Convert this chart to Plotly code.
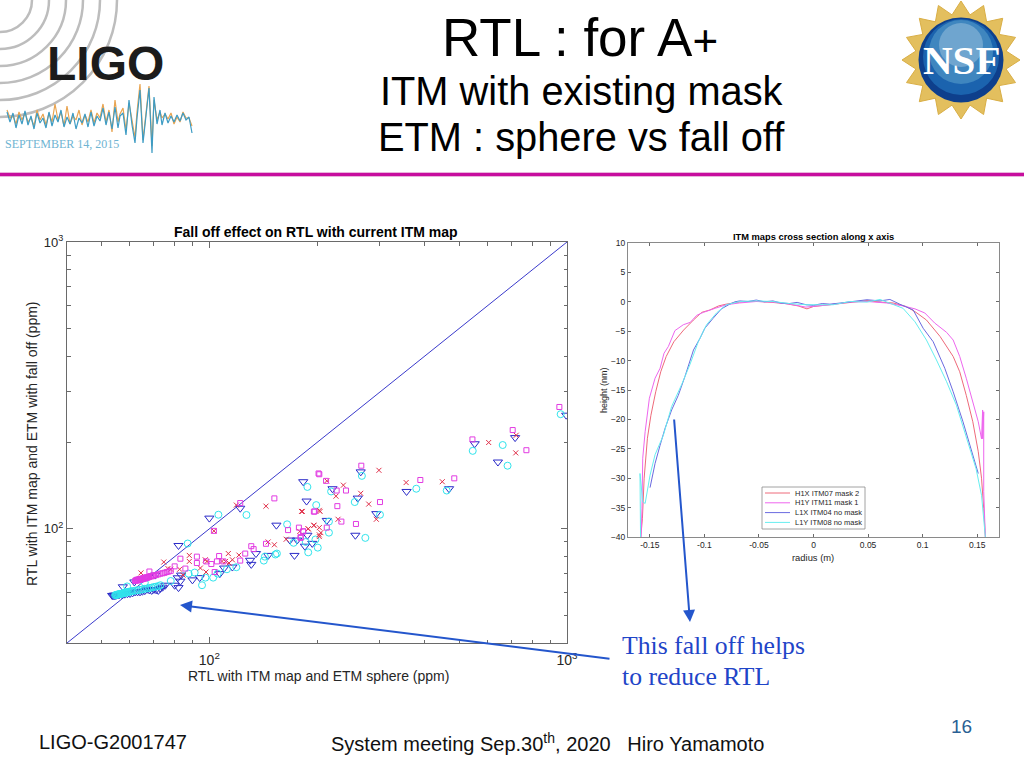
import math
import plotly.graph_objects as go

# ---------- left panel: RTL (ppm) ----------
tri_x = [53.5,53.8,54,54.3,54.5,54.8,55,55.5,56,57,58,59,60,61,62,63,64,65,66,67,68,69,70,71,72,73,74,
         57.3,61.7,70.6,75.3,80,82,81.6,83,83.4,89.7,94,107,110,116,130,131,135,146,173,168,176,185,188,194,154,187,183,122,100,82,
         995,716,641,552,468,356,293,260,265,221,256,213]
tri_y = [58.6,58.5,58.7,58.6,58.7,58.6,58.8,58.8,59,59,59.2,59.4,59.5,59.8,60.3,60.3,60.3,60.6,60.9,61.6,61.2,61,61.5,61.3,61,62,62.6,
         62.8,65.3,69,63.6,63.6,62.4,67.5,65.7,69,66.4,67.6,69.8,73,73.6,77.7,75.2,82,80.8,80.8,91.4,91.4,87,95,89,103,125,146,118,109,87.5,
         249,208,171,198,138,135,113,128,158,138,95,107]
cir_x = [54.5,54.8,55,55.3,55.5,55.8,56,56.3,56.5,56.8,57,57.3,57.5,57.8,58,58.3,58.5,58.8,59,59.5,60,60.5,61,62,63,64,65,66,67,68,69,70,71,72,73,
         58.9,66,78,87.5,91,95.4,97.5,102.5,105.5,112,119,142,143,153,154.5,165,172,186,189,198,201,199,188,127,106,87,
         960,661,682,545,461,379,300,255,267,219,216,216,273]
cir_y = [58.7,58.8,58.9,59,59,59.1,59.2,59.3,59.3,59.4,59.5,59.6,59.6,59.7,59.8,59.9,60,60.1,60.1,60.3,60.4,60.5,60.7,60.9,61.1,61.3,61.5,61.8,62,62.2,62.4,62.7,62.9,63.1,63.6,
         63,64.9,65.8,69.8,70.4,63.6,67.6,67.6,69.8,72.3,73.5,77.5,80,81.4,82,103.7,89.4,90,82.8,91.8,86,121,140,111.8,112,88.9,
         251,196,166,187,136,138,112,124,153,135,106,97,93]
crs_x = [64.4,74.6,76.6,78,82.6,84.4,87.9,87.9,94.4,97.9,97.4,98.5,108.5,111,113,116,113.5,121,103,119,144,152,146,164,179,181,189,196,203,203,
         721,719,604,448,355,298,265,279,293,237,226,213,204,182,229,205,196,203,189,203]
crs_y = [70.2,76.6,72.7,72.3,72.3,69,80.8,77,73,70.7,78,77,77,77,82,78,76,81,98.4,121,120,88,90,92,97.9,115,100,102.7,95.3,116,
         212,184,200,146,145,160,133,122,108,142,130,147,115,115,108,97,103,101,100,94]
sqr_x = [62,62.3,62.5,62.8,63,63.3,63.5,63.8,64,64.3,64.5,64.8,65,65.3,65.5,65.8,66,66.3,66.5,66.8,67,67.5,68,68.5,69,69.5,70,71,72,73,74,75,76,77,78,
         68,80,83,85.7,92.3,92.3,98,101.3,105,106.5,103.5,109.5,122,126,131,133,144,166,178,180,183,180,196,202,152,122,103,
         952,705,770,544,484,389,300,266,203,212,227,241,228,197,234,257,213,183]
sqr_y = [65.8,66.2,66,66.5,66.1,66.6,66.3,66.8,66.4,66.9,66.6,67,66.8,67.3,67,67.5,67.1,67.6,67.3,67.8,67.5,67.8,68,68.4,68.3,68.7,68.7,69,69.4,69.8,70,70.3,70.7,71,71.4,
         71,74,78.7,72.7,80,76,77,75.4,77,80.4,70.7,77,77.5,82,87,85,88.7,99,101,93.6,98,93,114.8,156,127.7,123,98.4,
         266,221,188,205,150,148,124,166,155,147,136,136,120,115,106,104,101,98]
unity = [40, 1000]
log_ticks = [100, 1000]
log_labels = ["10<sup>2</sup>", "10<sup>3</sup>"]
log_minor = [40,50,60,70,80,90,200,300,400,500,600,700,800,900]

# ---------- right panel: cross sections ----------
h1x_r = [-.1583,-.1568,-.1552,-.1522,-.149,-.1446,-.14,-.135,-.128,-.119,-.11,-.1025,-.095,-.087,-.08,-.068,-.06,-.05,-.038,-.026,-.014,-.006,0,.018,.0335,.049,.061,.073,.085,.094,.1035,.116,.128,.134,.14,.146,.151,.154,.156,.1575]
h1x_h = [-40,-36.9,-30,-23.2,-19.3,-15.3,-11.9,-9.3,-6.8,-4.8,-3.1,-1.8,-1.4,-.7,-.4,-.05,.05,.05,-.1,-.3,-.7,-1.2,-.8,-.4,-.05,.2,-.05,-.2,-.8,-1.8,-3.1,-5.9,-9.3,-11.9,-15.9,-20.4,-25.5,-30,-35.2,-40]
h1y_r = [-.158,-.1572,-.1565,-.1543,-.1504,-.1452,-.1406,-.137,-.133,-.127,-.1193,-.113,-.107,-.101,-.09,-.08,-.068,-.0525,-.037,-.022,-.007,0,.015,.0335,.049,.067,.082,.093,.102,.111,.122,.128,.134,.14,.146,.151,.154,.155,.155,.156,.156,.1575]
h1y_h = [-40,-35.2,-26.6,-22.1,-16.4,-13,-11.3,-8.75,-7.6,-4.9,-3.9,-3.5,-2.3,-1.8,-1.1,-.5,-.2,.05,-.05,-.4,-.9,-.8,-.5,-.05,.05,-.2,-.7,-1.2,-1.9,-3.6,-5.2,-6.5,-9.3,-13,-17,-20.4,-23.3,-18.4,-23.3,-18.7,-32.3,-40]
l1x_r = [-.1498,-.1452,-.1406,-.136,-.13,-.1239,-.1178,-.11,-.104,-.0996,-.092,-.0844,-.0768,-.072,-.0676,-.06,-.0524,-.045,-.0372,-.03,-.022,-.015,-.0068,0,.008,.015,.025,.0335,.042,.049,.061,.07,.079,.0914,.1005,.1097,.1203,.128,.137,.146,.151]
l1x_h = [-31.6,-27.5,-24.4,-21.5,-18.4,-15.9,-12.7,-8.2,-6.2,-4.5,-2.8,-1.2,-.4,0,.15,.05,.3,.0,.15,-.2,-.3,-.1,-.5,-.6,-.3,-.4,-.2,-.05,.1,.35,.15,.4,-.4,-1.4,-4.5,-6.8,-11.3,-15.3,-20.4,-26.1,-29.2]
l1y_r = [-.1585,-.159,-.1565,-.1543,-.1498,-.1452,-.1376,-.13,-.1209,-.1133,-.1056,-.098,-.0889,-.08,-.0676,-.0524,-.0372,-.022,-.0068,0,.018,.0335,.049,.061,.073,.082,.093,.1035,.1127,.122,.131,.14,.149,.154,.1575]
l1y_h = [-40,-29.2,-34,-34.3,-29.5,-26,-22.7,-17.8,-14.1,-10.7,-6.8,-3.9,-1.9,-.5,.05,.15,.05,-.3,-.5,-.5,-.5,.05,-.05,.4,-.5,-1.1,-3.4,-6.5,-9.9,-13.6,-17.6,-23.2,-28.4,-32.9,-40]
legend_labels = ["H1X ITM07 mask 2", "H1Y ITM11 mask 1", "L1X ITM04 no mask", "L1Y ITM08 no mask"]
h_ticks = [-.15,-.1,-.05,0,.05,.1,.15]
h_labels = ["-0.15","-0.1","-0.05","0","0.05","0.1","0.15"]

# ---------- logo wave ----------
wave_x = [7,10,13,16,19,22,25,28,31,34,37,40,43,46,49,52,55,58,61,64,67,70,73,76,79,82,85,88,91,94,97,100,103,106,109,112,115,118,120,123,126,129,132,135,137,140,143,146,149,152,154,157,160,162,165,168,171,174,177,180,183,186,189,192]
wave_b = [112,122,113,128,115,124,111,125,116,129,113,123,118,128,112,126,115,122,110,127,117,124,113,129,118,123,114,127,112,126,116,121,108,125,112,129,107,128,116,113,135,100,125,143,118,90,143,118,88,153,97,124,110,125,113,123,116,122,115,121,113,120,117,133]
wave_o = [110,118,116,124,112,120,113,122,118,126,110,120,114,125,113,122,104,120,112,126,106,124,116,120,110,125,115,122,110,123,113,118,104,122,110,132,100,122,114,108,130,103,120,138,112,84,140,110,86,146,100,120,112,118,114,119,113,124,117,122,112,118,118,126]

W, H = 1024, 768
def X(p): return p / W
def Y(p): return 1 - p / H

fig = go.Figure()
SLIDE = dict(xaxis="x3", yaxis="y3", hoverinfo="skip", showlegend=False)
LEFT = dict(xaxis="x", yaxis="y", showlegend=False)
RIGHT = dict(xaxis="x2", yaxis="y2", showlegend=False)

fig.add_trace(go.Scatter(x=wave_x, y=wave_o, mode="lines", line=dict(color="#E9A552", width=1.2), **SLIDE))
fig.add_trace(go.Scatter(x=wave_x, y=wave_b, mode="lines", line=dict(color="#3E9CC4", width=1.2), **SLIDE))

fig.add_trace(go.Scatter(x=unity, y=unity, mode="lines", line=dict(color="#3A3ACC", width=1), **LEFT))
fig.add_trace(go.Scatter(x=tri_x, y=tri_y, mode="markers", marker=dict(symbol="triangle-down-open", size=8, color="#2A2AC8", line=dict(width=1)), **LEFT))
fig.add_trace(go.Scatter(x=cir_x, y=cir_y, mode="markers", marker=dict(symbol="circle-open", size=7, color="#30E4EC", line=dict(width=1)), **LEFT))
fig.add_trace(go.Scatter(x=crs_x, y=crs_y, mode="markers", marker=dict(symbol="x-thin-open", size=5, color="#E0304A", line=dict(width=1)), **LEFT))
fig.add_trace(go.Scatter(x=sqr_x, y=sqr_y, mode="markers", marker=dict(symbol="square-open", size=5, color="#E23BE2", line=dict(width=1)), **LEFT))

line_colors = ["#EE6A7A", "#EE66EE", "#6A6AE0", "#66EEF0"]
for r, h, c in zip([h1x_r, h1y_r, l1x_r, l1y_r], [h1x_h, h1y_h, l1x_h, l1y_h], line_colors):
    fig.add_trace(go.Scatter(x=r, y=h, mode="lines", line=dict(color=c, width=1), **RIGHT))

axis_line = "#6a6a6a"
fig.update_layout(
    width=W, height=H, autosize=False, margin=dict(l=0, r=0, t=0, b=0, pad=0, autoexpand=False),
    paper_bgcolor="white", plot_bgcolor="rgba(0,0,0,0)", showlegend=False,
    font=dict(family="Liberation Sans", color="#262626"),
    xaxis=dict(type="log", domain=[X(67), X(567)], range=[math.log10(40), 3], anchor="y",
               tickmode="array", tickvals=log_ticks, ticktext=log_labels, ticks="inside", ticklen=6,
               tickcolor=axis_line, linecolor=axis_line, showline=True, mirror="allticks", showgrid=False, zeroline=False,
               minor=dict(tickmode="array", tickvals=log_minor, ticks="inside", ticklen=3.5, tickcolor=axis_line, showgrid=False),
               ticklabelstandoff=4, tickfont=dict(size=14)),
    yaxis=dict(type="log", domain=[Y(643), Y(242)], range=[math.log10(40), 3], anchor="x",
               tickmode="array", tickvals=log_ticks, ticktext=log_labels, ticks="inside", ticklen=6,
               tickcolor=axis_line, linecolor=axis_line, showline=True, mirror="allticks", showgrid=False, zeroline=False,
               minor=dict(tickmode="array", tickvals=log_minor, ticks="inside", ticklen=3.5, tickcolor=axis_line, showgrid=False),
               tickfont=dict(size=13)),
    xaxis2=dict(domain=[X(628), X(999)], range=[-.17, .17], anchor="y2",
                tickmode="array", tickvals=h_ticks, ticktext=h_labels, ticks="inside", ticklen=3,
                tickcolor=axis_line, linecolor="#8a8a8a", showline=True, mirror="allticks", showgrid=False, zeroline=False,
                tickfont=dict(size=8.5)),
    yaxis2=dict(domain=[Y(537), Y(243)], range=[-40, 10], anchor="x2",
                tickmode="linear", tick0=-40, dtick=5, ticks="inside", ticklen=3,
                tickcolor=axis_line, linecolor="#8a8a8a", showline=True, mirror="allticks", showgrid=False, zeroline=False,
                tickfont=dict(size=8.5)),
    xaxis3=dict(domain=[0, 1], range=[0, W], visible=False, anchor="y3", fixedrange=True),
    yaxis3=dict(domain=[0, 1], range=[H, 0], visible=False, anchor="x3", fixedrange=True),
)

shapes, ann = [], []
def S(**k):
    shapes.append(dict(xref="x3", yref="y3", **k))
def T(x, y, text, size, color="#000000", family="Liberation Sans", anchor="left", **k):
    ann.append(dict(xref="x3", yref="y3", x=x, y=y, text=text, showarrow=False,
                    xanchor=anchor, yanchor="middle", font=dict(size=size, color=color, family=family), **k))

# rule under the title
S(type="line", x0=0, x1=W, y0=174.5, y1=174.5, line=dict(color="#E9B5DC", width=5), layer="below")
S(type="line", x0=0, x1=W, y0=174.5, y1=174.5, line=dict(color="#C70E9E", width=3), layer="below")

# LIGO arcs
for r in [32, 49, 66, 83, 100, 117]:
    S(type="circle", x0=-r, x1=r, y0=-r, y1=r, line=dict(color="#BDBDBD", width=2.5), layer="below")

# NSF seal
cx, cy = 961, 60
pts = []
for i in range(32):
    a = math.pi * i / 16 + math.pi / 2
    rad = 59 if i % 2 == 0 else 46
    pts.append((cx + rad * math.cos(a), cy - rad * math.sin(a)))
path = "M " + " L ".join(f"{a:.1f},{b:.1f}" for a, b in pts) + " Z"
S(type="path", path=path, fillcolor="#E3BF5E", line=dict(color="#D9AE45", width=1), layer="below")
for r, up, c in [(42.5, 0, "#0E3F8C"), (38, 3, "#1B63AE"), (32, 8, "#3F86BF"), (22, 15, "#6FA5CF")]:
    S(type="circle", x0=cx - r, x1=cx + r, y0=cy - up - r, y1=cy - up + r, fillcolor=c, line=dict(width=0), layer="below")

# legend box of the right panel
S(type="rect", x0=762, x1=865, y0=487, y1=529, fillcolor="white", line=dict(color="#8a8a8a", width=0.8))
for i, (lab, c) in enumerate(zip(legend_labels, line_colors)):
    yy = 493 + i * 9.8
    S(type="line", x0=765, x1=790, y0=yy, y1=yy, line=dict(color=c, width=1))
    T(793, yy, lab, 7.5, color="#262626")

# titles and slide text
T(440, 37, 'RTL : for A<span style="font-size:44px">+</span>', 53)
T(581, 91, "ITM with existing mask", 39.8, anchor="center")
T(581, 137, "ETM : sphere vs fall off", 39.8, anchor="center")
T(316, 232, "<b>Fall off effect on RTL with current ITM map</b>", 14, anchor="center")
T(813, 237, "<b>ITM maps cross section along x axis</b>", 9.3, anchor="center")
T(318, 676, "RTL with ITM map and ETM sphere (ppm)", 14, color="#262626", anchor="center")
T(32, 444, "RTL with ITM map and ETM with fall off (ppm)", 14, color="#262626", anchor="center", textangle=-90)
T(813, 557, "radius (m)", 9.4, color="#262626", anchor="center")
T(604, 390, "height (nm)", 9, color="#262626", anchor="center", textangle=-90)
T(620, 645, "This fall off helps", 25.7, color="#1F45C8", family="Liberation Serif")
T(620, 676, "to reduce RTL", 25.7, color="#1F45C8", family="Liberation Serif")
T(961, 726, "16", 19, color="#2A5F94", anchor="center")
T(37, 742, "LIGO-G2001747", 20, color="#111111")
T(329, 742, "System meeting Sep.30<sup>th</sup>, 2020   Hiro Yamamoto", 20, color="#111111")
T(105, 63, "<b>LIGO</b>", 48, color="#1c1c1c", anchor="center")
T(3, 144, "SEPTEMBER 14, 2015", 12, color="#6FB4D2", family="Liberation Serif")
T(961, 60, "<b>NSF</b>", 41, color="#FFFFFF", family="Liberation Serif", anchor="center")

# arrows
for tip, tail in [((690, 622), (674, 418)), ((180, 605), (611, 659))]:
    ann.append(dict(xref="x3", yref="y3", x=tip[0], y=tip[1], text="", showarrow=True,
                    axref="pixel", ayref="pixel", ax=tail[0] - tip[0], ay=tail[1] - tip[1],
                    arrowhead=2, arrowsize=1.2, arrowwidth=2, arrowcolor="#2456CC"))

fig.update_layout(shapes=shapes, annotations=ann)
fig.write_html("out.html", config=dict(displayModeBar=False),
               post_script="document.body.style.margin='0';document.body.style.overflow='hidden';")
